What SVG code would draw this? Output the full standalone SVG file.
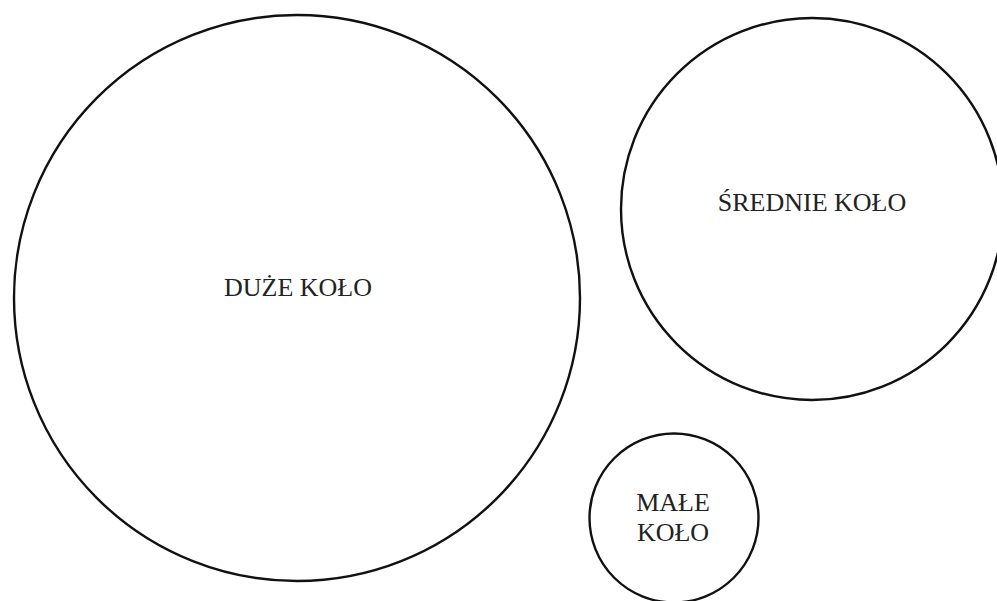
<svg xmlns="http://www.w3.org/2000/svg" width="997" height="601" viewBox="0 0 997 601">
<style>
.c{fill:none;stroke:#111;stroke-width:2.4}
.t{font-family:"Liberation Serif","Times New Roman",serif;font-size:26px;fill:#222;text-anchor:middle}
</style>
<rect width="997" height="601" fill="#fff"/>
<g id="duze">
<circle class="c" cx="297" cy="298" r="283"/>
<text class="t" x="298" y="296">DUŻE KOŁO</text>
</g>
<g id="srednie">
<circle class="c" cx="812" cy="209" r="191"/>
<text class="t" x="812" y="211">ŚREDNIE KOŁO</text>
</g>
<g id="male">
<circle class="c" cx="674" cy="518" r="84.5"/>
<text class="t" x="673" y="511">MAŁE</text>
<text class="t" x="673" y="541">KOŁO</text>
</g>
<g id="connectors"/>
</svg>
